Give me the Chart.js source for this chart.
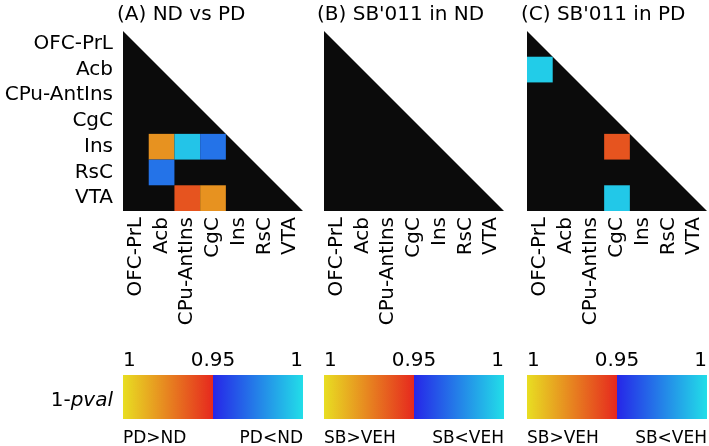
<!DOCTYPE html>
<html>
<head>
<meta charset="utf-8">
<script src="https://cdn.jsdelivr.net/npm/chart.js@4/dist/chart.umd.min.js"></script>
<style>
  body { margin: 0; background: #fff; }
  #page { position: relative; width: 709px; height: 446px; overflow: hidden; font-family: 'DejaVu Sans', sans-serif; color: #000; }
  canvas { position: absolute; }
  .title { position: absolute; top: 1px; font-size: 20px; line-height: 24px; white-space: nowrap; }
  #pvalLabel { position: absolute; left: 0; top: 387px; width: 113px; text-align: right; font-size: 20px; line-height: 24px; }
</style>
</head>
<body>
<div id="page">
  <canvas id="heatA" width="310" height="340" style="left:0;top:0"></canvas>
  <canvas id="heatB" width="200" height="340" style="left:314px;top:0"></canvas>
  <canvas id="heatC" width="192" height="340" style="left:517px;top:0"></canvas>
  <canvas id="barA" width="200" height="106" style="left:113px;top:340px"></canvas>
  <canvas id="barB" width="200" height="106" style="left:314px;top:340px"></canvas>
  <canvas id="barC" width="192" height="106" style="left:517px;top:340px"></canvas>
  <div class="title" id="titleA" style="left:117px"></div>
  <div class="title" id="titleB" style="left:317px"></div>
  <div class="title" id="titleC" style="left:521px"></div>
  <div id="pvalLabel">1-<i>pval</i></div>
</div>
<script>
// regions (rows top->bottom, columns left->right)
const regions = ['OFC-PrL', 'Acb', 'CPu-AntIns', 'CgC', 'Ins', 'RsC', 'VTA'];
const panelTitles = ['(A) ND vs PD', "(B) SB'011 in ND", "(C) SB'011 in PD"];

// significant cells: row, column, signed 1-pval (+ = first group higher -> warm, - = lower -> cool)
const ndPdRows = [4, 4, 4, 5, 6, 6];
const ndPdCols = [1, 2, 3, 1, 2, 3];
const ndPdVals = [0.979, -0.993, -0.971, -0.971, 0.962, 0.979];

const sbNdRows = [];
const sbNdCols = [];
const sbNdVals = [];

const sbPdRows = [1, 4, 6];
const sbPdCols = [0, 3, 3];
const sbPdVals = [-0.995, 0.962, -0.994];

// colour bar
const cbTickPos = [0, 0.5, 1];
const cbTickLabels = ['1', '0.95', '1'];
const sideLabels = [['PD>ND', 'PD<ND'], ['SB>VEH', 'SB<VEH'], ['SB>VEH', 'SB<VEH']];

const warmEnds = ['#e8de22', '#e6281e'];  // 1 -> 0.95
const coolEnds = ['#2626e8', '#22dee8'];  // 0.95 -> 1
const black = '#0b0b0b';
const font = 'DejaVu Sans';

function hexRgb(h) {
    return [1, 3, 5].map(i => parseInt(h.substr(i, 2), 16));
}
function mix(a, b, t) {
    const A = hexRgb(a), B = hexRgb(b);
    const c = A.map((v, i) => Math.round(v + (B[i] - v) * t));
    return `rgb(${c[0]},${c[1]},${c[2]})`;
}
function cellColor(v) {
    const t = Math.min(1, Math.max(0, (1 - Math.abs(v)) / 0.05));
    return v > 0 ? mix(warmEnds[0], warmEnds[1], t) : mix(coolEnds[1], coolEnds[0], t);
}

panelTitles.forEach((t, i) => {
    document.getElementById('title' + 'ABC'[i]).textContent = t;
});

// no extra room for overhanging labels, the layout padding decides
function noLabelPadding(s) {
    s.paddingLeft = 0;
    s.paddingRight = 0;
}

function heatmap(id, rows, cols, vals, showY, padLeft, padRight) {
    return new Chart(document.getElementById(id), {
        type: 'scatter',
        data: {
            datasets: [{
                data: rows.map((r, i) => ({ x: cols[i] + 0.5, y: r + 0.5 })),
                pointStyle: 'rect',
                pointRadius: function (ctx) {
                    const s = ctx.chart.scales.x;
                    return (s.getPixelForValue(1) - s.getPixelForValue(0)) / Math.SQRT2;
                },
                pointBackgroundColor: vals.map(cellColor),
                pointBorderWidth: 0,
                order: 0
            }, {
                // lower triangle of the matrix
                type: 'line',
                data: [{ x: 0, y: 0 }, { x: 7, y: 7 }],
                fill: { value: 7 },
                backgroundColor: black,
                borderColor: black,
                borderWidth: 0,
                pointRadius: 0,
                tension: 0,
                order: 1
            }]
        },
        options: {
            responsive: false,
            animation: false,
            events: [],
            layout: { padding: { left: padLeft, right: padRight, top: 31, bottom: 0 } },
            plugins: { legend: { display: false }, tooltip: { enabled: false } },
            scales: {
                x: {
                    type: 'linear', min: 0, max: 7,
                    afterBuildTicks: s => { s.ticks = regions.map((_, i) => ({ value: i + 0.5 })); },
                    afterFit: s => { s.height = 129; noLabelPadding(s); },
                    ticks: {
                        callback: (v, i) => regions[i],
                        autoSkip: false, minRotation: 90, maxRotation: 90, padding: 6,
                        color: '#000', font: { family: font, size: 20 }
                    },
                    grid: { display: false, drawTicks: false },
                    border: { display: false }
                },
                y: {
                    type: 'linear', min: 0, max: 7, reverse: true,
                    display: showY,
                    afterBuildTicks: s => { s.ticks = regions.map((_, i) => ({ value: i + 0.5 })); },
                    afterFit: s => { if (showY) s.width = 123; s.paddingTop = 0; s.paddingBottom = 0; },
                    ticks: {
                        callback: (v, i) => regions[i],
                        autoSkip: false, padding: 10,
                        color: '#000', font: { family: font, size: 20 }
                    },
                    grid: { display: false, drawTicks: false },
                    border: { display: false }
                }
            }
        }
    });
}

function colorbar(id, labels, padLeft, padRight) {
    return new Chart(document.getElementById(id), {
        type: 'bar',
        data: {
            labels: [''],
            datasets: [{
                data: [[0, 1]],
                backgroundColor: function (ctx) {
                    const a = ctx.chart.chartArea;
                    if (!a) return warmEnds[0];
                    const g = ctx.chart.ctx.createLinearGradient(a.left, 0, a.right, 0);
                    g.addColorStop(0, warmEnds[0]);
                    g.addColorStop(0.5, warmEnds[1]);
                    g.addColorStop(0.5, coolEnds[0]);
                    g.addColorStop(1, coolEnds[1]);
                    return g;
                },
                borderWidth: 0,
                barPercentage: 1,
                categoryPercentage: 1
            }]
        },
        options: {
            indexAxis: 'y',
            responsive: false,
            animation: false,
            events: [],
            layout: { padding: { left: padLeft, right: padRight, top: 0, bottom: 0 } },
            plugins: { legend: { display: false }, tooltip: { enabled: false } },
            scales: {
                y: { display: false },
                x: {
                    type: 'linear', position: 'bottom', min: 0, max: 1,
                    afterBuildTicks: s => { s.ticks = [{ value: 0 }, { value: 1 }]; },
                    afterFit: s => { s.height = 27; noLabelPadding(s); },
                    ticks: {
                        callback: (v, i) => labels[i],
                        align: 'inner', autoSkip: false, maxRotation: 0, padding: 9,
                        color: '#000', font: { family: font, size: 17 }
                    },
                    grid: { display: false, drawTicks: false },
                    border: { display: false }
                },
                xTop: {
                    type: 'linear', position: 'top', min: 0, max: 1,
                    afterBuildTicks: s => { s.ticks = cbTickPos.map(v => ({ value: v })); },
                    afterFit: s => { s.height = 35; noLabelPadding(s); },
                    ticks: {
                        callback: (v, i) => cbTickLabels[i],
                        align: 'inner', autoSkip: false, maxRotation: 0, padding: 2,
                        color: '#000', font: { family: font, size: 20 }
                    },
                    grid: { display: false, drawTicks: false },
                    border: { display: false }
                }
            }
        }
    });
}

heatmap('heatA', ndPdRows, ndPdCols, ndPdVals, true, 0, 7);
heatmap('heatB', sbNdRows, sbNdCols, sbNdVals, false, 10, 10);
heatmap('heatC', sbPdRows, sbPdCols, sbPdVals, false, 10, 2);

colorbar('barA', sideLabels[0], 10, 10);
colorbar('barB', sideLabels[1], 10, 10);
colorbar('barC', sideLabels[2], 10, 2);
</script>
</body>
</html>
